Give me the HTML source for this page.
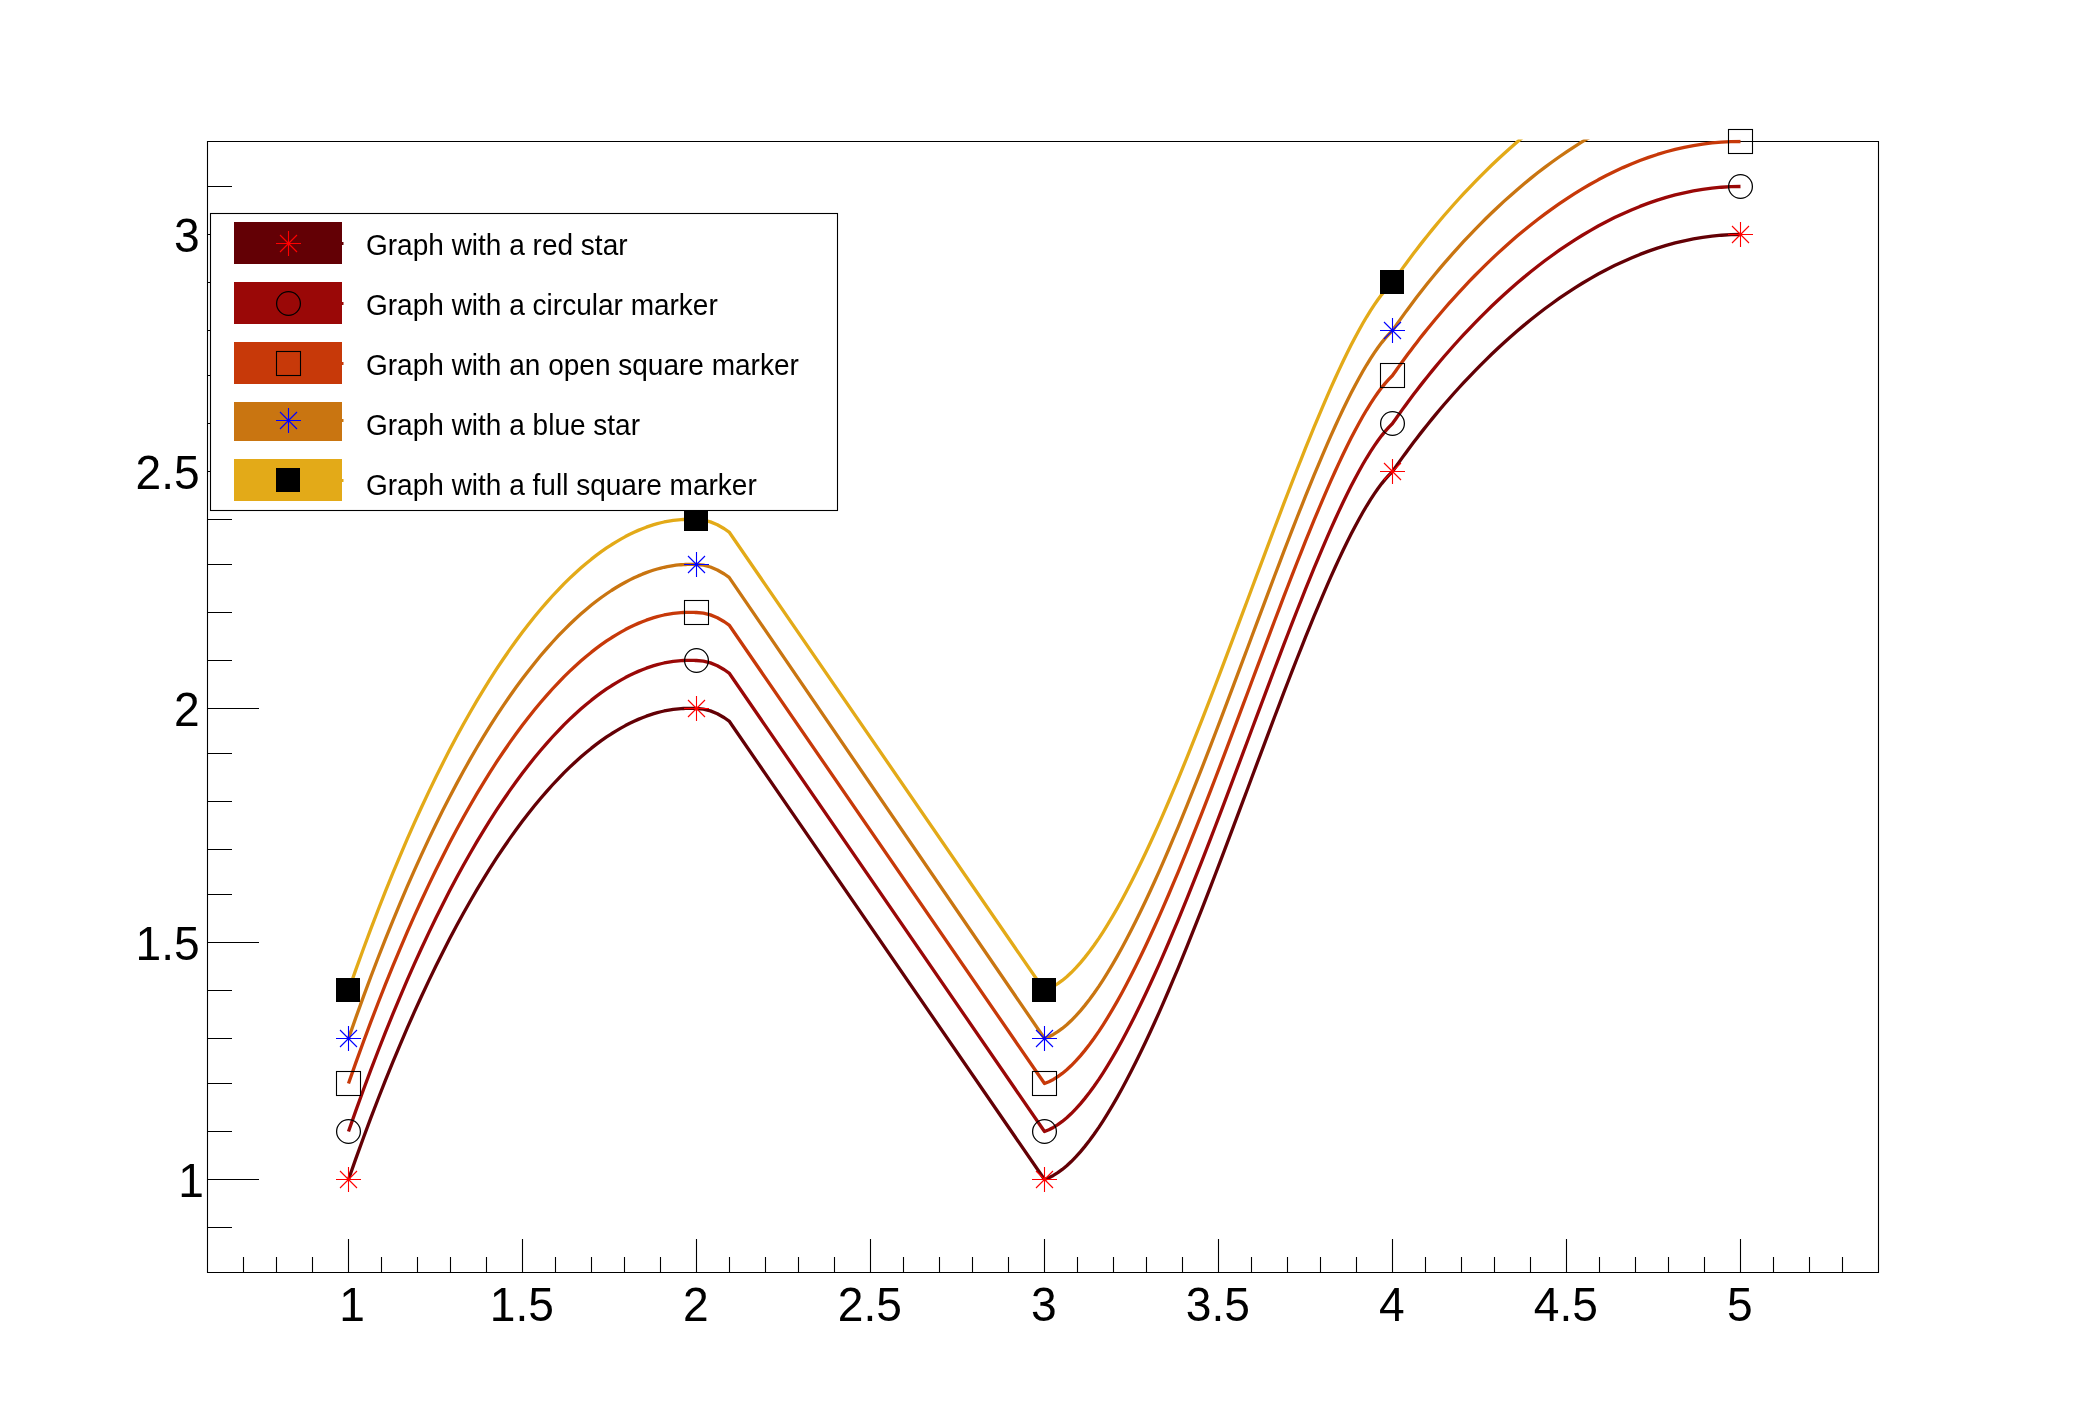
<!DOCTYPE html>
<html><head><meta charset="utf-8"><title>Graph palette color</title>
<style>html,body{margin:0;padding:0;background:#fff;overflow:hidden;}svg{display:block;}
text{font-family:"Liberation Sans",Arial,Helvetica,sans-serif;fill:#000;-webkit-font-smoothing:antialiased;} svg{will-change:transform;}</style></head>
<body>
<svg width="2088" height="1416" viewBox="0 0 2088 1416">
<rect x="0" y="0" width="2088" height="1416" fill="#fff"/>
<defs><clipPath id="fr"><rect x="206" y="139.5" width="1674" height="1134.5"/></clipPath></defs>
<path d="M207.5 141.5H1878.5V1272.5H207.5Z" fill="none" stroke="#000" stroke-width="1.1"/>
<path d="M243.5 1273V1257M276.5 1273V1257M312.5 1273V1257M348.5 1273V1239M381.5 1273V1257M417.5 1273V1257M450.5 1273V1257M486.5 1273V1257M522.5 1273V1239M555.5 1273V1257M591.5 1273V1257M624.5 1273V1257M660.5 1273V1257M696.5 1273V1239M729.5 1273V1257M765.5 1273V1257M798.5 1273V1257M834.5 1273V1257M870.5 1273V1239M903.5 1273V1257M939.5 1273V1257M972.5 1273V1257M1008.5 1273V1257M1044.5 1273V1239M1077.5 1273V1257M1113.5 1273V1257M1146.5 1273V1257M1182.5 1273V1257M1218.5 1273V1239M1251.5 1273V1257M1287.5 1273V1257M1320.5 1273V1257M1356.5 1273V1257M1392.5 1273V1239M1425.5 1273V1257M1461.5 1273V1257M1494.5 1273V1257M1530.5 1273V1257M1566.5 1273V1239M1599.5 1273V1257M1635.5 1273V1257M1668.5 1273V1257M1704.5 1273V1257M1740.5 1273V1239M1773.5 1273V1257M1809.5 1273V1257M1842.5 1273V1257M207 1227.5H232M207 1179.5H259M207 1131.5H232M207 1083.5H232M207 1038.5H232M207 990.5H232M207 942.5H259M207 894.5H232M207 849.5H232M207 801.5H232M207 753.5H232M207 708.5H259M207 660.5H232M207 612.5H232M207 564.5H232M207 519.5H232M207 471.5H259M207 423.5H232M207 375.5H232M207 330.5H232M207 282.5H232M207 234.5H259M207 186.5H232" stroke="#000" stroke-width="1.1" fill="none"/>
<text transform="translate(352.0,1320.6) scale(0.965,1)" font-size="47.8" text-anchor="middle">1</text>
<text transform="translate(521.8,1320.6) scale(0.965,1)" font-size="47.8" text-anchor="middle">1.5</text>
<text transform="translate(695.8,1320.6) scale(0.965,1)" font-size="47.8" text-anchor="middle">2</text>
<text transform="translate(869.8,1320.6) scale(0.965,1)" font-size="47.8" text-anchor="middle">2.5</text>
<text transform="translate(1043.8,1320.6) scale(0.965,1)" font-size="47.8" text-anchor="middle">3</text>
<text transform="translate(1217.8,1320.6) scale(0.965,1)" font-size="47.8" text-anchor="middle">3.5</text>
<text transform="translate(1391.8,1320.6) scale(0.965,1)" font-size="47.8" text-anchor="middle">4</text>
<text transform="translate(1565.8,1320.6) scale(0.965,1)" font-size="47.8" text-anchor="middle">4.5</text>
<text transform="translate(1739.8,1320.6) scale(0.965,1)" font-size="47.8" text-anchor="middle">5</text>
<text transform="translate(204.0,1196.9) scale(0.965,1)" font-size="47.8" text-anchor="end">1</text>
<text transform="translate(199.6,959.9) scale(0.965,1)" font-size="47.8" text-anchor="end">1.5</text>
<text transform="translate(199.6,725.9) scale(0.965,1)" font-size="47.8" text-anchor="end">2</text>
<text transform="translate(199.6,488.9) scale(0.965,1)" font-size="47.8" text-anchor="end">2.5</text>
<text transform="translate(199.6,251.9) scale(0.965,1)" font-size="47.8" text-anchor="end">3</text>
<polyline points="348.5,1179.5 355.93,1158.42 363.34,1137.99 370.73,1118.17 378.08,1098.98 385.4,1080.39 392.7,1062.41 399.95,1045.01 407.17,1028.19 414.36,1011.93 421.5,996.24 428.6,981.1 435.65,966.49 442.66,952.42 449.62,938.86 456.53,925.82 463.38,913.27 470.18,901.22 476.92,889.65 483.6,878.55 490.23,867.91 496.78,857.72 503.28,847.97 509.7,838.66 516.06,829.76 522.34,821.29 528.55,813.21 534.69,805.53 540.74,798.23 546.72,791.3 552.61,784.74 558.43,778.53 564.15,772.66 569.79,767.13 575.33,761.93 580.79,757.04 586.14,752.45 591.41,748.16 596.57,744.16 601.63,740.43 606.6,736.97 611.45,733.77 616.2,730.81 620.84,728.09 625.37,725.59 629.79,723.31 634.09,721.24 638.27,719.37 642.34,717.69 646.28,716.18 650.1,714.85 653.8,713.67 657.36,712.64 660.8,711.75 664.11,710.99 667.28,710.35 670.32,709.82 673.22,709.39 675.98,709.05 678.59,708.79 681.07,708.61 683.39,708.48 685.57,708.41 687.6,708.37 689.48,708.37 691.2,708.39 692.76,708.42 694.17,708.46 695.42,708.49 696.5,708.5 703.46,709.1 710.42,710.88 717.38,713.78 724.34,717.75 729.11,721.06 1044.5,1179.5 1048.91,1177.73 1053.35,1175.45 1057.8,1172.68 1062.27,1169.43 1066.76,1165.71 1071.27,1161.53 1075.8,1156.9 1080.35,1151.85 1084.9,1146.38 1089.48,1140.5 1094.07,1134.22 1098.67,1127.57 1103.28,1120.54 1107.9,1113.16 1112.54,1105.44 1117.18,1097.38 1121.83,1089.01 1126.49,1080.33 1131.16,1071.36 1135.83,1062.11 1140.51,1052.58 1145.2,1042.81 1149.88,1032.79 1154.58,1022.54 1159.27,1012.07 1163.96,1001.39 1168.66,990.53 1173.35,979.48 1178.04,968.27 1182.73,956.9 1187.42,945.38 1192.1,933.74 1196.78,921.98 1201.45,910.12 1206.12,898.16 1210.78,886.13 1215.43,874.02 1220.07,861.86 1224.71,849.66 1229.33,837.43 1233.94,825.19 1238.54,812.94 1243.13,800.7 1247.7,788.47 1252.26,776.29 1256.8,764.14 1261.33,752.06 1265.83,740.05 1270.33,728.12 1274.8,716.29 1279.25,704.56 1283.68,692.96 1288.09,681.49 1292.48,670.17 1296.84,659.01 1301.18,648.02 1305.5,637.21 1309.79,626.6 1314.05,616.2 1318.29,606.02 1322.5,596.08 1326.68,586.38 1330.83,576.94 1334.95,567.78 1339.04,558.9 1343.09,550.31 1347.12,542.04 1351.1,534.09 1355.06,526.47 1358.98,519.2 1362.86,512.29 1366.7,505.76 1370.51,499.61 1374.28,493.86 1378,488.51 1381.69,483.59 1385.34,479.11 1388.94,475.07 1392.5,471.5 1393.35,470.3 1394.43,468.77 1395.72,466.93 1397.23,464.78 1398.95,462.34 1400.89,459.63 1403.03,456.65 1405.38,453.42 1407.93,449.94 1410.69,446.24 1413.64,442.32 1416.79,438.19 1420.13,433.87 1423.66,429.37 1427.38,424.69 1431.29,419.86 1435.39,414.89 1439.66,409.78 1444.11,404.55 1448.74,399.21 1453.55,393.78 1458.52,388.26 1463.66,382.66 1468.97,377.01 1474.45,371.31 1480.08,365.57 1485.88,359.8 1491.83,354.02 1497.94,348.25 1504.19,342.48 1510.6,336.74 1517.15,331.03 1523.85,325.37 1530.69,319.77 1537.67,314.25 1544.78,308.8 1552.03,303.46 1559.41,298.22 1566.93,293.1 1574.56,288.11 1582.33,283.27 1590.21,278.58 1598.21,274.06 1606.33,269.72 1614.57,265.58 1622.92,261.64 1631.37,257.91 1639.94,254.41 1648.61,251.16 1657.38,248.16 1666.25,245.42 1675.21,242.96 1684.28,240.79 1693.43,238.92 1702.67,237.36 1712.01,236.13 1721.42,235.23 1730.92,234.68 1740.5,234.5" fill="none" stroke="rgb(99,0,5)" stroke-width="3.3" stroke-linejoin="round" clip-path="url(#fr)"/>
<path d="M336 1179.5H361M348.5 1167V1192M340 1171L357 1188M340 1188L357 1171" stroke="#f00" stroke-width="1.1" fill="none"/>
<path d="M684 708.5H709M696.5 696V721M688 700L705 717M688 717L705 700" stroke="#f00" stroke-width="1.1" fill="none"/>
<path d="M1032 1179.5H1057M1044.5 1167V1192M1036 1171L1053 1188M1036 1188L1053 1171" stroke="#f00" stroke-width="1.1" fill="none"/>
<path d="M1380 471.5H1405M1392.5 459V484M1384 463L1401 480M1384 480L1401 463" stroke="#f00" stroke-width="1.1" fill="none"/>
<path d="M1728 234.5H1753M1740.5 222V247M1732 226L1749 243M1732 243L1749 226" stroke="#f00" stroke-width="1.1" fill="none"/>
<polyline points="348.5,1131.5 355.93,1110.42 363.34,1089.99 370.73,1070.17 378.08,1050.98 385.4,1032.39 392.7,1014.41 399.95,997.01 407.17,980.19 414.36,963.93 421.5,948.24 428.6,933.1 435.65,918.49 442.66,904.42 449.62,890.86 456.53,877.82 463.38,865.27 470.18,853.22 476.92,841.65 483.6,830.55 490.23,819.91 496.78,809.72 503.28,799.97 509.7,790.66 516.06,781.76 522.34,773.29 528.55,765.21 534.69,757.53 540.74,750.23 546.72,743.3 552.61,736.74 558.43,730.53 564.15,724.66 569.79,719.13 575.33,713.93 580.79,709.04 586.14,704.45 591.41,700.16 596.57,696.16 601.63,692.43 606.6,688.97 611.45,685.77 616.2,682.81 620.84,680.09 625.37,677.59 629.79,675.31 634.09,673.24 638.27,671.37 642.34,669.69 646.28,668.18 650.1,666.85 653.8,665.67 657.36,664.64 660.8,663.75 664.11,662.99 667.28,662.35 670.32,661.82 673.22,661.39 675.98,661.05 678.59,660.79 681.07,660.61 683.39,660.48 685.57,660.41 687.6,660.37 689.48,660.37 691.2,660.39 692.76,660.42 694.17,660.46 695.42,660.49 696.5,660.5 703.46,661.1 710.42,662.88 717.38,665.78 724.34,669.75 729.11,673.06 1044.5,1131.5 1048.91,1129.73 1053.35,1127.45 1057.8,1124.68 1062.27,1121.43 1066.76,1117.71 1071.27,1113.53 1075.8,1108.9 1080.35,1103.85 1084.9,1098.38 1089.48,1092.5 1094.07,1086.22 1098.67,1079.57 1103.28,1072.54 1107.9,1065.16 1112.54,1057.44 1117.18,1049.38 1121.83,1041.01 1126.49,1032.33 1131.16,1023.36 1135.83,1014.11 1140.51,1004.58 1145.2,994.81 1149.88,984.79 1154.58,974.54 1159.27,964.07 1163.96,953.39 1168.66,942.53 1173.35,931.48 1178.04,920.27 1182.73,908.9 1187.42,897.38 1192.1,885.74 1196.78,873.98 1201.45,862.12 1206.12,850.16 1210.78,838.13 1215.43,826.02 1220.07,813.86 1224.71,801.66 1229.33,789.43 1233.94,777.19 1238.54,764.94 1243.13,752.7 1247.7,740.47 1252.26,728.29 1256.8,716.14 1261.33,704.06 1265.83,692.05 1270.33,680.12 1274.8,668.29 1279.25,656.56 1283.68,644.96 1288.09,633.49 1292.48,622.17 1296.84,611.01 1301.18,600.02 1305.5,589.21 1309.79,578.6 1314.05,568.2 1318.29,558.02 1322.5,548.08 1326.68,538.38 1330.83,528.94 1334.95,519.78 1339.04,510.9 1343.09,502.31 1347.12,494.04 1351.1,486.09 1355.06,478.47 1358.98,471.2 1362.86,464.29 1366.7,457.76 1370.51,451.61 1374.28,445.86 1378,440.51 1381.69,435.59 1385.34,431.11 1388.94,427.07 1392.5,423.5 1393.35,422.3 1394.43,420.77 1395.72,418.93 1397.23,416.78 1398.95,414.34 1400.89,411.63 1403.03,408.65 1405.38,405.42 1407.93,401.94 1410.69,398.24 1413.64,394.32 1416.79,390.19 1420.13,385.87 1423.66,381.37 1427.38,376.69 1431.29,371.86 1435.39,366.89 1439.66,361.78 1444.11,356.55 1448.74,351.21 1453.55,345.78 1458.52,340.26 1463.66,334.66 1468.97,329.01 1474.45,323.31 1480.08,317.57 1485.88,311.8 1491.83,306.02 1497.94,300.25 1504.19,294.48 1510.6,288.74 1517.15,283.03 1523.85,277.37 1530.69,271.77 1537.67,266.25 1544.78,260.8 1552.03,255.46 1559.41,250.22 1566.93,245.1 1574.56,240.11 1582.33,235.27 1590.21,230.58 1598.21,226.06 1606.33,221.72 1614.57,217.58 1622.92,213.64 1631.37,209.91 1639.94,206.41 1648.61,203.16 1657.38,200.16 1666.25,197.42 1675.21,194.96 1684.28,192.79 1693.43,190.92 1702.67,189.36 1712.01,188.13 1721.42,187.23 1730.92,186.68 1740.5,186.5" fill="none" stroke="rgb(154,8,7)" stroke-width="3.3" stroke-linejoin="round" clip-path="url(#fr)"/>
<circle cx="348.5" cy="1131.5" r="11.9" stroke="#000" stroke-width="1.25" fill="none"/>
<circle cx="696.5" cy="660.5" r="11.9" stroke="#000" stroke-width="1.25" fill="none"/>
<circle cx="1044.5" cy="1131.5" r="11.9" stroke="#000" stroke-width="1.25" fill="none"/>
<circle cx="1392.5" cy="423.5" r="11.9" stroke="#000" stroke-width="1.25" fill="none"/>
<circle cx="1740.5" cy="186.5" r="11.9" stroke="#000" stroke-width="1.25" fill="none"/>
<polyline points="348.5,1083.5 355.93,1062.42 363.34,1041.99 370.73,1022.17 378.08,1002.98 385.4,984.39 392.7,966.41 399.95,949.01 407.17,932.19 414.36,915.93 421.5,900.24 428.6,885.1 435.65,870.49 442.66,856.42 449.62,842.86 456.53,829.82 463.38,817.27 470.18,805.22 476.92,793.65 483.6,782.55 490.23,771.91 496.78,761.72 503.28,751.97 509.7,742.66 516.06,733.76 522.34,725.29 528.55,717.21 534.69,709.53 540.74,702.23 546.72,695.3 552.61,688.74 558.43,682.53 564.15,676.66 569.79,671.13 575.33,665.93 580.79,661.04 586.14,656.45 591.41,652.16 596.57,648.16 601.63,644.43 606.6,640.97 611.45,637.77 616.2,634.81 620.84,632.09 625.37,629.59 629.79,627.31 634.09,625.24 638.27,623.37 642.34,621.69 646.28,620.18 650.1,618.85 653.8,617.67 657.36,616.64 660.8,615.75 664.11,614.99 667.28,614.35 670.32,613.82 673.22,613.39 675.98,613.05 678.59,612.79 681.07,612.61 683.39,612.48 685.57,612.41 687.6,612.37 689.48,612.37 691.2,612.39 692.76,612.42 694.17,612.46 695.42,612.49 696.5,612.5 703.46,613.1 710.42,614.88 717.38,617.78 724.34,621.75 729.11,625.06 1044.5,1083.5 1048.91,1081.73 1053.35,1079.45 1057.8,1076.68 1062.27,1073.43 1066.76,1069.71 1071.27,1065.53 1075.8,1060.9 1080.35,1055.85 1084.9,1050.38 1089.48,1044.5 1094.07,1038.22 1098.67,1031.57 1103.28,1024.54 1107.9,1017.16 1112.54,1009.44 1117.18,1001.38 1121.83,993.01 1126.49,984.33 1131.16,975.36 1135.83,966.11 1140.51,956.58 1145.2,946.81 1149.88,936.79 1154.58,926.54 1159.27,916.07 1163.96,905.39 1168.66,894.53 1173.35,883.48 1178.04,872.27 1182.73,860.9 1187.42,849.38 1192.1,837.74 1196.78,825.98 1201.45,814.12 1206.12,802.16 1210.78,790.13 1215.43,778.02 1220.07,765.86 1224.71,753.66 1229.33,741.43 1233.94,729.19 1238.54,716.94 1243.13,704.7 1247.7,692.47 1252.26,680.29 1256.8,668.14 1261.33,656.06 1265.83,644.05 1270.33,632.12 1274.8,620.29 1279.25,608.56 1283.68,596.96 1288.09,585.49 1292.48,574.17 1296.84,563.01 1301.18,552.02 1305.5,541.21 1309.79,530.6 1314.05,520.2 1318.29,510.02 1322.5,500.08 1326.68,490.38 1330.83,480.94 1334.95,471.78 1339.04,462.9 1343.09,454.31 1347.12,446.04 1351.1,438.09 1355.06,430.47 1358.98,423.2 1362.86,416.29 1366.7,409.76 1370.51,403.61 1374.28,397.86 1378,392.51 1381.69,387.59 1385.34,383.11 1388.94,379.07 1392.5,375.5 1393.35,374.3 1394.43,372.78 1395.72,370.95 1397.23,368.82 1398.95,366.4 1400.89,363.7 1403.03,360.74 1405.38,357.53 1407.93,354.08 1410.69,350.4 1413.64,346.5 1416.79,342.4 1420.13,338.11 1423.66,333.63 1427.38,328.99 1431.29,324.2 1435.39,319.26 1439.66,314.19 1444.11,309 1448.74,303.7 1453.55,298.3 1458.52,292.83 1463.66,287.28 1468.97,281.67 1474.45,276.01 1480.08,270.32 1485.88,264.61 1491.83,258.88 1497.94,253.16 1504.19,247.44 1510.6,241.76 1517.15,236.11 1523.85,230.51 1530.69,224.97 1537.67,219.5 1544.78,214.12 1552.03,208.83 1559.41,203.65 1566.93,198.6 1574.56,193.68 1582.33,188.9 1590.21,184.28 1598.21,179.83 1606.33,175.57 1614.57,171.49 1622.92,167.62 1631.37,163.97 1639.94,160.55 1648.61,157.37 1657.38,154.44 1666.25,151.78 1675.21,149.4 1684.28,147.3 1693.43,145.51 1702.67,144.03 1712.01,142.88 1721.42,142.07 1730.92,141.6 1740.5,141.5" fill="none" stroke="rgb(199,57,9)" stroke-width="3.3" stroke-linejoin="round" clip-path="url(#fr)"/>
<rect x="336.5" y="1071.5" width="24" height="24" stroke="#000" stroke-width="1.1" fill="none"/>
<rect x="684.5" y="600.5" width="24" height="24" stroke="#000" stroke-width="1.1" fill="none"/>
<rect x="1032.5" y="1071.5" width="24" height="24" stroke="#000" stroke-width="1.1" fill="none"/>
<rect x="1380.5" y="363.5" width="24" height="24" stroke="#000" stroke-width="1.1" fill="none"/>
<rect x="1728.5" y="129.5" width="24" height="24" stroke="#000" stroke-width="1.1" fill="none"/>
<polyline points="348.5,1038.5 355.93,1017.36 363.34,996.86 370.73,976.98 378.08,957.72 385.4,939.08 392.7,921.02 399.95,903.56 407.17,886.68 414.36,870.36 421.5,854.61 428.6,839.4 435.65,824.74 442.66,810.6 449.62,796.99 456.53,783.89 463.38,771.28 470.18,759.17 476.92,747.54 483.6,736.38 490.23,725.68 496.78,715.44 503.28,705.64 509.7,696.27 516.06,687.32 522.34,678.79 528.55,670.66 534.69,662.92 540.74,655.57 546.72,648.59 552.61,641.98 558.43,635.72 564.15,629.8 569.79,624.23 575.33,618.97 580.79,614.04 586.14,609.4 591.41,605.07 596.57,601.02 601.63,597.25 606.6,593.75 611.45,590.5 616.2,587.5 620.84,584.74 625.37,582.2 629.79,579.89 634.09,577.78 638.27,575.88 642.34,574.16 646.28,572.62 650.1,571.25 653.8,570.04 657.36,568.98 660.8,568.06 664.11,567.27 667.28,566.6 670.32,566.05 673.22,565.59 675.98,565.23 678.59,564.95 681.07,564.74 683.39,564.59 685.57,564.5 687.6,564.45 689.48,564.43 691.2,564.44 692.76,564.46 694.17,564.48 695.42,564.5 696.5,564.5 703.46,565.16 710.42,567 717.38,569.96 724.34,573.99 729.11,577.35 1044.5,1038.5 1048.91,1036.73 1053.35,1034.45 1057.8,1031.68 1062.27,1028.43 1066.76,1024.71 1071.27,1020.53 1075.8,1015.9 1080.35,1010.85 1084.9,1005.38 1089.48,999.5 1094.07,993.22 1098.67,986.57 1103.28,979.54 1107.9,972.16 1112.54,964.44 1117.18,956.38 1121.83,948.01 1126.49,939.33 1131.16,930.36 1135.83,921.11 1140.51,911.58 1145.2,901.81 1149.88,891.79 1154.58,881.54 1159.27,871.07 1163.96,860.39 1168.66,849.53 1173.35,838.48 1178.04,827.27 1182.73,815.9 1187.42,804.38 1192.1,792.74 1196.78,780.98 1201.45,769.12 1206.12,757.16 1210.78,745.13 1215.43,733.02 1220.07,720.86 1224.71,708.66 1229.33,696.43 1233.94,684.19 1238.54,671.94 1243.13,659.7 1247.7,647.47 1252.26,635.29 1256.8,623.14 1261.33,611.06 1265.83,599.05 1270.33,587.12 1274.8,575.29 1279.25,563.56 1283.68,551.96 1288.09,540.49 1292.48,529.17 1296.84,518.01 1301.18,507.02 1305.5,496.21 1309.79,485.6 1314.05,475.2 1318.29,465.02 1322.5,455.08 1326.68,445.38 1330.83,435.94 1334.95,426.78 1339.04,417.9 1343.09,409.31 1347.12,401.04 1351.1,393.09 1355.06,385.47 1358.98,378.2 1362.86,371.29 1366.7,364.76 1370.51,358.61 1374.28,352.86 1378,347.51 1381.69,342.59 1385.34,338.11 1388.94,334.07 1392.5,330.5 1393.35,329.29 1394.43,327.76 1395.72,325.92 1397.23,323.77 1398.95,321.33 1400.89,318.61 1403.03,315.62 1405.38,312.38 1407.93,308.9 1410.69,305.19 1413.64,301.26 1416.79,297.12 1420.13,292.79 1423.66,288.28 1427.38,283.59 1431.29,278.75 1435.39,273.77 1439.66,268.64 1444.11,263.4 1448.74,258.05 1453.55,252.6 1458.52,247.07 1463.66,241.46 1468.97,235.79 1474.45,230.07 1480.08,224.31 1485.88,218.53 1491.83,212.74 1497.94,206.94 1504.19,201.16 1510.6,195.4 1517.15,189.67 1523.85,184 1530.69,178.38 1537.67,172.83 1544.78,167.37 1552.03,162 1559.41,156.74 1566.93,151.59 1574.56,146.59 1582.33,141.72 1590.21,137.01 1598.21,132.47 1606.33,128.11 1614.57,123.94 1622.92,119.97 1631.37,116.22 1639.94,112.7 1648.61,109.42 1657.38,106.4 1666.25,103.63 1675.21,101.15 1684.28,98.95 1693.43,97.05 1702.67,95.47 1712.01,94.21 1721.42,93.29 1730.92,92.71 1740.5,92.5" fill="none" stroke="rgb(201,117,17)" stroke-width="3.3" stroke-linejoin="round" clip-path="url(#fr)"/>
<path d="M336 1038.5H361M348.5 1026V1051M340 1030L357 1047M340 1047L357 1030" stroke="#00f" stroke-width="1.1" fill="none"/>
<path d="M684 564.5H709M696.5 552V577M688 556L705 573M688 573L705 556" stroke="#00f" stroke-width="1.1" fill="none"/>
<path d="M1032 1038.5H1057M1044.5 1026V1051M1036 1030L1053 1047M1036 1047L1053 1030" stroke="#00f" stroke-width="1.1" fill="none"/>
<path d="M1380 330.5H1405M1392.5 318V343M1384 322L1401 339M1384 339L1401 322" stroke="#00f" stroke-width="1.1" fill="none"/>
<polyline points="348.5,990.5 355.93,969.42 363.34,948.99 370.73,929.17 378.08,909.98 385.4,891.39 392.7,873.41 399.95,856.01 407.17,839.19 414.36,822.93 421.5,807.24 428.6,792.1 435.65,777.49 442.66,763.42 449.62,749.86 456.53,736.82 463.38,724.27 470.18,712.22 476.92,700.65 483.6,689.55 490.23,678.91 496.78,668.72 503.28,658.97 509.7,649.66 516.06,640.76 522.34,632.29 528.55,624.21 534.69,616.53 540.74,609.23 546.72,602.3 552.61,595.74 558.43,589.53 564.15,583.66 569.79,578.13 575.33,572.93 580.79,568.04 586.14,563.45 591.41,559.16 596.57,555.16 601.63,551.43 606.6,547.97 611.45,544.77 616.2,541.81 620.84,539.09 625.37,536.59 629.79,534.31 634.09,532.24 638.27,530.37 642.34,528.69 646.28,527.18 650.1,525.85 653.8,524.67 657.36,523.64 660.8,522.75 664.11,521.99 667.28,521.35 670.32,520.82 673.22,520.39 675.98,520.05 678.59,519.79 681.07,519.61 683.39,519.48 685.57,519.41 687.6,519.37 689.48,519.37 691.2,519.39 692.76,519.42 694.17,519.46 695.42,519.49 696.5,519.5 703.46,520.1 710.42,521.88 717.38,524.78 724.34,528.75 729.11,532.06 1044.5,990.5 1048.91,988.73 1053.35,986.45 1057.8,983.68 1062.27,980.43 1066.76,976.71 1071.27,972.53 1075.8,967.9 1080.35,962.85 1084.9,957.38 1089.48,951.5 1094.07,945.22 1098.67,938.57 1103.28,931.54 1107.9,924.16 1112.54,916.44 1117.18,908.38 1121.83,900.01 1126.49,891.33 1131.16,882.36 1135.83,873.11 1140.51,863.58 1145.2,853.81 1149.88,843.79 1154.58,833.54 1159.27,823.07 1163.96,812.39 1168.66,801.53 1173.35,790.48 1178.04,779.27 1182.73,767.9 1187.42,756.38 1192.1,744.74 1196.78,732.98 1201.45,721.12 1206.12,709.16 1210.78,697.13 1215.43,685.02 1220.07,672.86 1224.71,660.66 1229.33,648.43 1233.94,636.19 1238.54,623.94 1243.13,611.7 1247.7,599.47 1252.26,587.29 1256.8,575.14 1261.33,563.06 1265.83,551.05 1270.33,539.12 1274.8,527.29 1279.25,515.56 1283.68,503.96 1288.09,492.49 1292.48,481.17 1296.84,470.01 1301.18,459.02 1305.5,448.21 1309.79,437.6 1314.05,427.2 1318.29,417.02 1322.5,407.08 1326.68,397.38 1330.83,387.94 1334.95,378.78 1339.04,369.9 1343.09,361.31 1347.12,353.04 1351.1,345.09 1355.06,337.47 1358.98,330.2 1362.86,323.29 1366.7,316.76 1370.51,310.61 1374.28,304.86 1378,299.51 1381.69,294.59 1385.34,290.11 1388.94,286.07 1392.5,282.5 1393.35,281.3 1394.43,279.77 1395.72,277.93 1397.23,275.78 1398.95,273.34 1400.89,270.63 1403.03,267.65 1405.38,264.42 1407.93,260.94 1410.69,257.24 1413.64,253.32 1416.79,249.19 1420.13,244.87 1423.66,240.37 1427.38,235.69 1431.29,230.86 1435.39,225.89 1439.66,220.78 1444.11,215.55 1448.74,210.21 1453.55,204.78 1458.52,199.26 1463.66,193.66 1468.97,188.01 1474.45,182.31 1480.08,176.57 1485.88,170.8 1491.83,165.02 1497.94,159.25 1504.19,153.48 1510.6,147.74 1517.15,142.03 1523.85,136.37 1530.69,130.77 1537.67,125.25 1544.78,119.8 1552.03,114.46 1559.41,109.22 1566.93,104.1 1574.56,99.11 1582.33,94.27 1590.21,89.58 1598.21,85.06 1606.33,80.72 1614.57,76.58 1622.92,72.64 1631.37,68.91 1639.94,65.41 1648.61,62.16 1657.38,59.16 1666.25,56.42 1675.21,53.96 1684.28,51.79 1693.43,49.92 1702.67,48.36 1712.01,47.13 1721.42,46.23 1730.92,45.68 1740.5,45.5" fill="none" stroke="rgb(227,170,24)" stroke-width="3.3" stroke-linejoin="round" clip-path="url(#fr)"/>
<rect x="336" y="978" width="24" height="24" fill="#000"/>
<rect x="684" y="507" width="24" height="24" fill="#000"/>
<rect x="1032" y="978" width="24" height="24" fill="#000"/>
<rect x="1380" y="270" width="24" height="24" fill="#000"/>
<rect x="210.5" y="213.5" width="627" height="297" fill="#fff" stroke="#000" stroke-width="1.1"/>
<rect x="234" y="222" width="108" height="42" fill="rgb(99,0,5)"/>
<path d="M234 243.5H343.5" stroke="rgb(99,0,5)" stroke-width="3"/>
<path d="M276 243.5H301M288.5 231V256M280 235L297 252M280 252L297 235" stroke="#f00" stroke-width="1.1" fill="none"/>
<text transform="translate(366,254.8) scale(0.98,1)" font-size="28.6">Graph with a red star</text>
<rect x="234" y="282" width="108" height="42" fill="rgb(154,8,7)"/>
<path d="M234 303.5H343.5" stroke="rgb(154,8,7)" stroke-width="3"/>
<circle cx="288.5" cy="303.5" r="11.9" stroke="#000" stroke-width="1.25" fill="none"/>
<text transform="translate(366,314.8) scale(0.98,1)" font-size="28.6">Graph with a circular marker</text>
<rect x="234" y="342" width="108" height="42" fill="rgb(199,57,9)"/>
<path d="M234 363.5H343.5" stroke="rgb(199,57,9)" stroke-width="3"/>
<rect x="276.5" y="351.5" width="24" height="24" stroke="#000" stroke-width="1.1" fill="none"/>
<text transform="translate(366,374.8) scale(0.98,1)" font-size="28.6">Graph with an open square marker</text>
<rect x="234" y="402" width="108" height="39" fill="rgb(201,117,17)"/>
<path d="M234 420.5H343.5" stroke="rgb(201,117,17)" stroke-width="3"/>
<path d="M276 420.5H301M288.5 408V433M280 412L297 429M280 429L297 412" stroke="#00f" stroke-width="1.1" fill="none"/>
<text transform="translate(366,434.8) scale(0.98,1)" font-size="28.6">Graph with a blue star</text>
<rect x="234" y="459" width="108" height="42" fill="rgb(227,170,24)"/>
<path d="M234 480.5H343.5" stroke="rgb(227,170,24)" stroke-width="3"/>
<rect x="276" y="468" width="24" height="24" fill="#000"/>
<text transform="translate(366,494.8) scale(0.98,1)" font-size="28.6">Graph with a full square marker</text>
</svg>
</body></html>
